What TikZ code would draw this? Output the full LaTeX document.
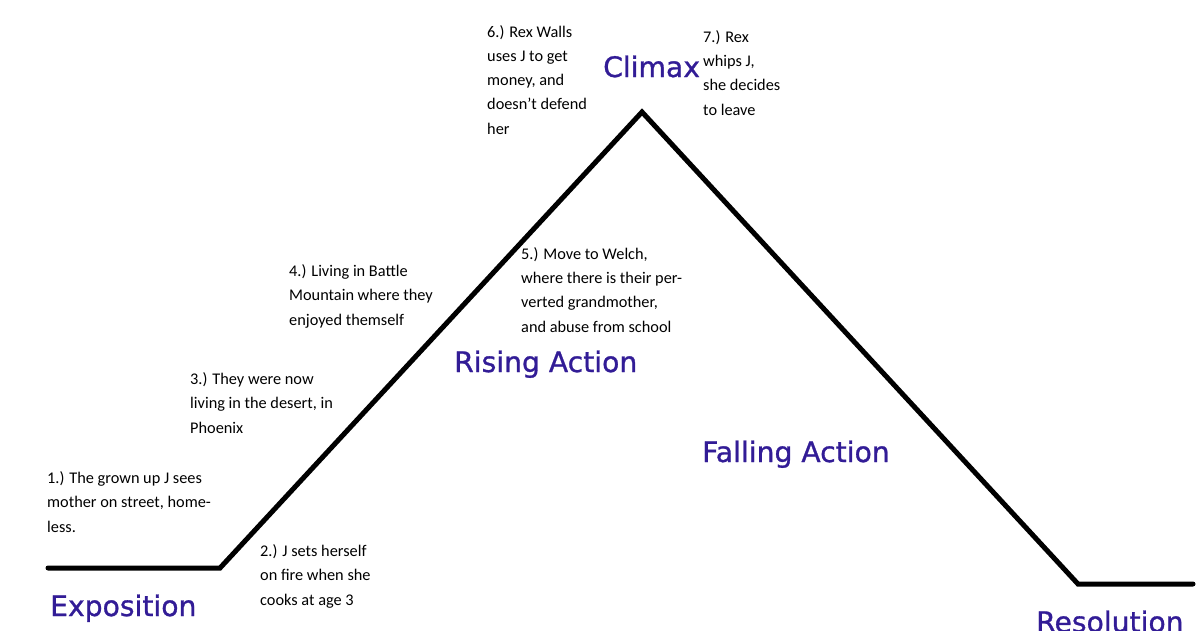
\documentclass[tikz,border=0pt]{standalone}
\usepackage{fontspec}
\setmainfont{Carlito}
\newfontfamily\stagefont[FakeBold=1]{DejaVu Sans}
\usepackage{tikz}
\usetikzlibrary{positioning}
\definecolor{stageblue}{RGB}{50,28,150}
\tikzset{note/.style={anchor=base west, align=left, inner sep=0pt, font=\fontsize{16.3}{24.2}\selectfont}}
\tikzset{stage/.style={anchor=base west, inner sep=0pt, text=stageblue, font=\stagefont\fontsize{28.2}{30}\selectfont}}
\tikzset{plotline/.style={line width=5pt, line cap=round, miter limit=10}}
\begin{document}
\begin{tikzpicture}[x=1pt, y=-1pt]
\useasboundingbox (0,0) rectangle (1200,630);

% the plot line
\coordinate (start) at (48,568);
\coordinate (risefoot) at (220,568);
\coordinate (peak) at (642,112);
\coordinate (fallfoot) at (1078,584);
\coordinate (finish) at (1193,584);
\draw[plotline] (start) -- (risefoot) -- (peak) -- (fallfoot) -- (finish);

% stages
\node[stage] (exposition) at (50,616) {Exposition};
\node[stage] (rising) at (454,372) {Rising Action};
\node[stage] (climax) at (603,77) {Climax};
\node[stage] (falling) at (702,462) {Falling Action};
\node[stage] (resolution) at (1036,632) {Resolution};

% events (placed at the baseline of their last line)
\node[note] (ev1) at (47,532) {1.) The grown up J sees\\mother on street, home-\\less.};
\node[note] (ev2) at (260,605) {2.) J sets herself\\on fire when she\\cooks at age 3};
\node[note] (ev3) at (190,433) {3.) They were now\\living in the desert, in\\Phoenix};
\node[note] (ev4) at (289,325) {4.) Living in Battle\\Mountain where they\\enjoyed themself};
\node[note] (ev5) at (521,332) {5.) Move to Welch,\\where there is their per-\\verted grandmother,\\and abuse from school};
\node[note] (ev6) at (487,134) {6.) Rex Walls\\uses J to get\\money, and\\doesn{\char"27}t defend\\her};
\node[note] (ev7) at (703,115) {7.) Rex\\whips J,\\she decides\\to leave};

\end{tikzpicture}
\end{document}
